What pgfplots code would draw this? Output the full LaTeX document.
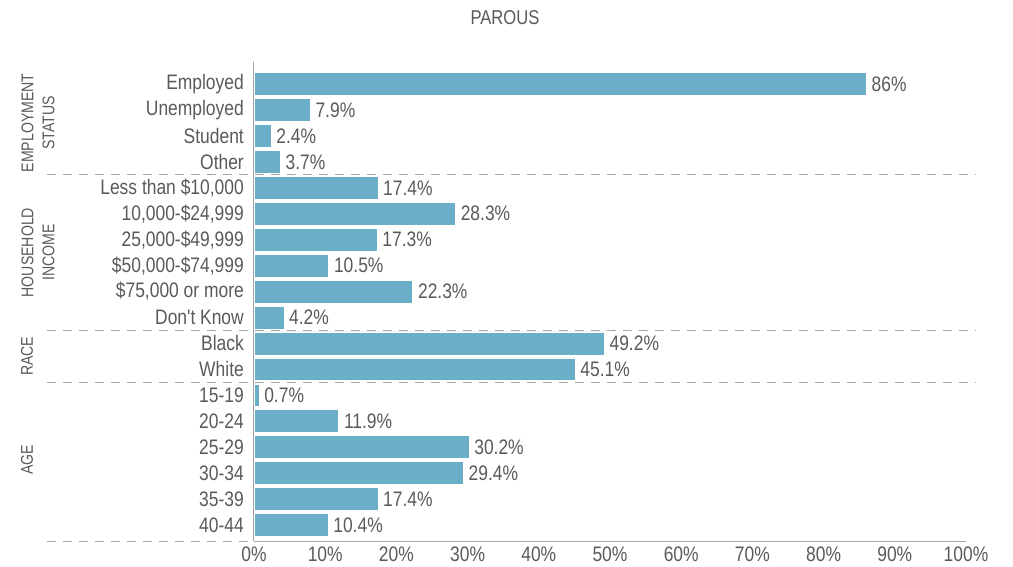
\documentclass[border=0pt]{standalone}
\usepackage{fontspec}
\setmainfont{Liberation Sans}[FakeStretch=0.83, Ligatures=TeXOff]
\usepackage{pgfplots}
\pgfplotsset{compat=1.18}
\definecolor{barblue}{HTML}{6BAEC7}
\definecolor{txt}{HTML}{5A5A5A}
\definecolor{axgray}{HTML}{A6A6A6}

\pgfplotstableread{
idx val
0 86
1 7.9
2 2.4
3 3.7
4 17.4
5 28.3
6 17.3
7 10.5
8 22.3
9 4.2
10 49.2
11 45.1
12 0.7
13 11.9
14 30.2
15 29.4
16 17.4
17 10.4
}\parous

\begin{document}
\begin{tikzpicture}
\useasboundingbox (-254pt,-25pt) rectangle (759pt,541pt);
\node[text=txt, font=\fontsize{20}{22}\selectfont] at (251pt,523pt) {PAROUS};
\begin{axis}[
    scale only axis,
    width=712pt, height=479pt,
    xbar, bar width=0.88,
    y dir=reverse,
    xmin=0, xmax=100,
    ymin=-0.85, ymax=17.62,
    /pgf/number format/assume math mode=true,
    axis x line*=bottom, axis y line*=left,
    axis line style={draw=axgray, line width=1pt},
    xtick={0,10,...,100},
    xticklabel={\pgfmathprintnumber{\tick}\%},
    xticklabel style={text=txt, font=\fontsize{21}{23}\selectfont, inner sep=0pt, yshift=-6pt},
    ytick={0,...,17},
    yticklabels={Employed, Unemployed, Student, Other, Less than \$10{,}000, 10{,}000-\$24{,}999, 25{,}000-\$49{,}999, \$50{,}000-\$74{,}999, \$75{,}000 or more, Don't Know, Black, White, 15-19, 20-24, 25-29, 30-34, 35-39, 40-44},
    yticklabel style={text=txt, font=\fontsize{21}{23}\selectfont, anchor=east, inner sep=0pt, xshift=-10pt},
    major tick length=0pt,
    tick style={draw=none},
    clip=false,
    nodes near coords={\pgfmathprintnumber[fixed, precision=1]{\pgfplotspointmeta}\%},
    nodes near coords style={text=txt, font=\fontsize{21}{23}\selectfont, anchor=west, inner sep=0pt, xshift=5pt},
]
\addplot[fill=barblue, draw=white, line width=0.6pt] table[x=val, y=idx] {\parous};
% group separators
\draw[axgray, line width=1pt, dash pattern=on 9pt off 7pt] (axis cs:-29.1,3.5) -- (axis cs:101.3,3.5);
\draw[axgray, line width=1pt, dash pattern=on 9pt off 7pt] (axis cs:-29.1,9.5) -- (axis cs:101.3,9.5);
\draw[axgray, line width=1pt, dash pattern=on 9pt off 7pt] (axis cs:-29.1,11.5) -- (axis cs:101.3,11.5);
\draw[axgray, line width=1pt, dash pattern=on 9pt off 7pt] (axis cs:-29.1,17.62) -- (axis cs:0,17.62);
\begin{scope}[every node/.style={text=txt, font=\fontsize{17}{21}\selectfont, rotate=90, align=center}]
\node at ([xshift=-216pt]axis cs:0,1.5) {EMPLOYMENT\\STATUS};
\node at ([xshift=-216pt]axis cs:0,6.5) {HOUSEHOLD\\INCOME};
\node at ([xshift=-227pt]axis cs:0,10.5) {RACE};
\node at ([xshift=-227pt]axis cs:0,14.5) {AGE};
\end{scope}
\end{axis}
\end{tikzpicture}
\end{document}
